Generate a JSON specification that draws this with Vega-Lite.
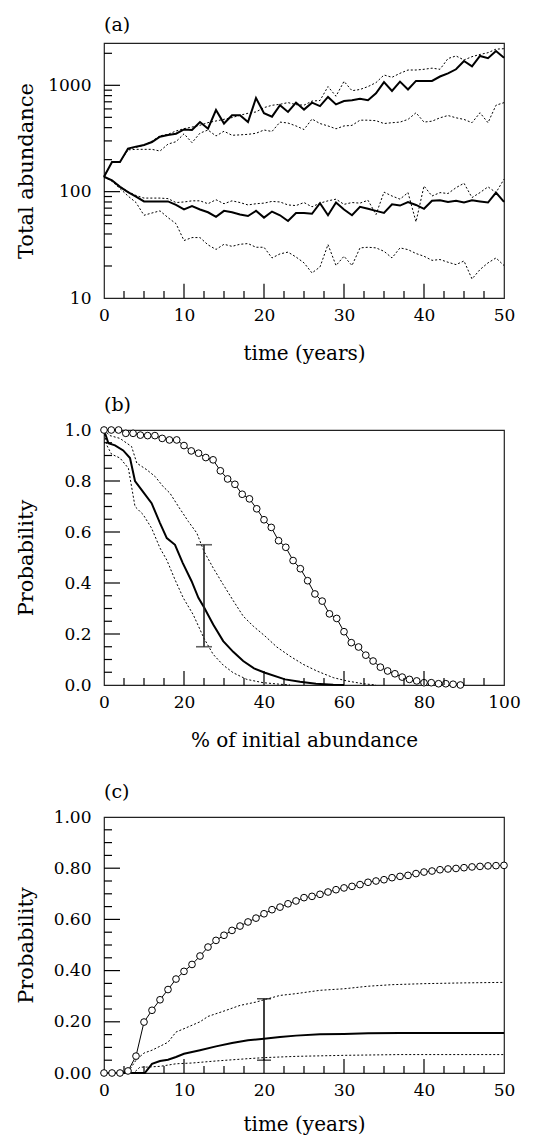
{
"$schema": "https://vega.github.io/schema/vega-lite/v6.json",
"background": "white",
"padding": {"left": 14, "top": 15, "right": 5, "bottom": 5},
"bounds": "flush",
"spacing": 132,
"config": {
 "view": {"stroke": "#222", "strokeWidth": 1.2, "fill": null},
 "axis": {"labelFont": "DejaVu Serif", "labelFontSize": 17, "labelColor": "black", "titleFont": "DejaVu Serif", "titleFontSize": 20, "titleFontWeight": "normal", "titleColor": "black", "ticks": false, "grid": false, "domain": false, "labelFlush": false, "labelOverlap": false},
 "title": {"font": "DejaVu Serif", "fontSize": 19, "fontWeight": "normal", "anchor": "start", "frame": "group", "color": "black"}
},
"datasets": {
 "tyLog": [{"v":100,"major":true},{"v":1000,"major":true},{"v":20,"major":false},{"v":30,"major":false},{"v":40,"major":false},{"v":50,"major":false},{"v":60,"major":false},{"v":70,"major":false},{"v":80,"major":false},{"v":90,"major":false},{"v":200,"major":false},{"v":300,"major":false},{"v":400,"major":false},{"v":500,"major":false},{"v":600,"major":false},{"v":700,"major":false},{"v":800,"major":false},{"v":900,"major":false},{"v":2000,"major":false}],
 "tx50": [{"v":10,"major":true},{"v":20,"major":true},{"v":30,"major":true},{"v":40,"major":true},{"v":2.5,"major":false},{"v":5,"major":false},{"v":7.5,"major":false},{"v":12.5,"major":false},{"v":15,"major":false},{"v":17.5,"major":false},{"v":22.5,"major":false},{"v":25,"major":false},{"v":27.5,"major":false},{"v":32.5,"major":false},{"v":35,"major":false},{"v":37.5,"major":false},{"v":42.5,"major":false},{"v":45,"major":false},{"v":47.5,"major":false}],
 "tx100": [{"v":20,"major":true},{"v":40,"major":true},{"v":60,"major":true},{"v":80,"major":true},{"v":5,"major":false},{"v":10,"major":false},{"v":15,"major":false},{"v":25,"major":false},{"v":30,"major":false},{"v":35,"major":false},{"v":45,"major":false},{"v":50,"major":false},{"v":55,"major":false},{"v":65,"major":false},{"v":70,"major":false},{"v":75,"major":false},{"v":85,"major":false},{"v":90,"major":false},{"v":95,"major":false}],
 "ty1": [{"v":0.2,"major":true},{"v":0.4,"major":true},{"v":0.6,"major":true},{"v":0.8,"major":true},{"v":0.05,"major":false},{"v":0.1,"major":false},{"v":0.15,"major":false},{"v":0.25,"major":false},{"v":0.3,"major":false},{"v":0.35,"major":false},{"v":0.45,"major":false},{"v":0.5,"major":false},{"v":0.55,"major":false},{"v":0.65,"major":false},{"v":0.7,"major":false},{"v":0.75,"major":false},{"v":0.85,"major":false},{"v":0.9,"major":false},{"v":0.95,"major":false}],
 "a": [
{"t":0,"N":138,"s":"U"},{"t":1,"N":190,"s":"U"},{"t":2,"N":190,"s":"U"},{"t":3,"N":254,"s":"U"},{"t":4,"N":265,"s":"U"},{"t":5,"N":275,"s":"U"},{"t":6,"N":293,"s":"U"},{"t":7,"N":329,"s":"U"},{"t":8,"N":341,"s":"U"},{"t":9,"N":351,"s":"U"},{"t":10,"N":385,"s":"U"},{"t":11,"N":380,"s":"U"},{"t":12,"N":452,"s":"U"},{"t":13,"N":391,"s":"U"},{"t":14,"N":586,"s":"U"},{"t":15,"N":437,"s":"U"},{"t":16,"N":523,"s":"U"},{"t":17,"N":523,"s":"U"},{"t":18,"N":452,"s":"U"},{"t":19,"N":760,"s":"U"},{"t":20,"N":546,"s":"U"},{"t":21,"N":507,"s":"U"},{"t":22,"N":649,"s":"U"},{"t":23,"N":562,"s":"U"},{"t":24,"N":688,"s":"U"},{"t":25,"N":591,"s":"U"},{"t":26,"N":687,"s":"U"},{"t":27,"N":638,"s":"U"},{"t":28,"N":778,"s":"U"},{"t":29,"N":662,"s":"U"},{"t":30,"N":711,"s":"U"},{"t":31,"N":725,"s":"U"},{"t":32,"N":748,"s":"U"},{"t":33,"N":725,"s":"U"},{"t":34,"N":841,"s":"U"},{"t":35,"N":1073,"s":"U"},{"t":36,"N":884,"s":"U"},{"t":37,"N":1083,"s":"U"},{"t":38,"N":914,"s":"U"},{"t":39,"N":1100,"s":"U"},{"t":40,"N":1100,"s":"U"},{"t":41,"N":1100,"s":"U"},{"t":42,"N":1210,"s":"U"},{"t":43,"N":1297,"s":"U"},{"t":44,"N":1415,"s":"U"},{"t":45,"N":1693,"s":"U"},{"t":46,"N":1510,"s":"U"},{"t":47,"N":1889,"s":"U"},{"t":48,"N":1797,"s":"U"},{"t":49,"N":2100,"s":"U"},{"t":50,"N":1820,"s":"U"},
{"t":0,"N":138,"s":"Uh"},{"t":1,"N":190,"s":"Uh"},{"t":2,"N":190,"s":"Uh"},{"t":3,"N":250,"s":"Uh"},{"t":4,"N":262,"s":"Uh"},{"t":5,"N":273,"s":"Uh"},{"t":6,"N":299,"s":"Uh"},{"t":7,"N":335,"s":"Uh"},{"t":8,"N":346,"s":"Uh"},{"t":9,"N":372,"s":"Uh"},{"t":10,"N":391,"s":"Uh"},{"t":11,"N":405,"s":"Uh"},{"t":12,"N":421,"s":"Uh"},{"t":13,"N":446,"s":"Uh"},{"t":14,"N":462,"s":"Uh"},{"t":15,"N":479,"s":"Uh"},{"t":16,"N":497,"s":"Uh"},{"t":17,"N":523,"s":"Uh"},{"t":18,"N":546,"s":"Uh"},{"t":19,"N":562,"s":"Uh"},{"t":20,"N":617,"s":"Uh"},{"t":21,"N":649,"s":"Uh"},{"t":22,"N":663,"s":"Uh"},{"t":23,"N":688,"s":"Uh"},{"t":24,"N":658,"s":"Uh"},{"t":25,"N":650,"s":"Uh"},{"t":26,"N":711,"s":"Uh"},{"t":27,"N":720,"s":"Uh"},{"t":28,"N":973,"s":"Uh"},{"t":29,"N":790,"s":"Uh"},{"t":30,"N":1090,"s":"Uh"},{"t":31,"N":890,"s":"Uh"},{"t":32,"N":914,"s":"Uh"},{"t":33,"N":973,"s":"Uh"},{"t":34,"N":1060,"s":"Uh"},{"t":35,"N":1250,"s":"Uh"},{"t":36,"N":1190,"s":"Uh"},{"t":37,"N":1297,"s":"Uh"},{"t":38,"N":1393,"s":"Uh"},{"t":39,"N":1393,"s":"Uh"},{"t":40,"N":1415,"s":"Uh"},{"t":41,"N":1450,"s":"Uh"},{"t":42,"N":1415,"s":"Uh"},{"t":43,"N":1786,"s":"Uh"},{"t":44,"N":1889,"s":"Uh"},{"t":45,"N":1730,"s":"Uh"},{"t":46,"N":1860,"s":"Uh"},{"t":47,"N":1950,"s":"Uh"},{"t":48,"N":2027,"s":"Uh"},{"t":49,"N":2188,"s":"Uh"},{"t":50,"N":2210,"s":"Uh"},
{"t":0,"N":138,"s":"Ul"},{"t":1,"N":190,"s":"Ul"},{"t":2,"N":190,"s":"Ul"},{"t":3,"N":247,"s":"Ul"},{"t":4,"N":250,"s":"Ul"},{"t":5,"N":250,"s":"Ul"},{"t":6,"N":250,"s":"Ul"},{"t":7,"N":241,"s":"Ul"},{"t":8,"N":280,"s":"Ul"},{"t":9,"N":295,"s":"Ul"},{"t":10,"N":350,"s":"Ul"},{"t":11,"N":289,"s":"Ul"},{"t":12,"N":355,"s":"Ul"},{"t":13,"N":380,"s":"Ul"},{"t":14,"N":334,"s":"Ul"},{"t":15,"N":370,"s":"Ul"},{"t":16,"N":339,"s":"Ul"},{"t":17,"N":342,"s":"Ul"},{"t":18,"N":346,"s":"Ul"},{"t":19,"N":354,"s":"Ul"},{"t":20,"N":380,"s":"Ul"},{"t":21,"N":368,"s":"Ul"},{"t":22,"N":451,"s":"Ul"},{"t":23,"N":442,"s":"Ul"},{"t":24,"N":415,"s":"Ul"},{"t":25,"N":384,"s":"Ul"},{"t":26,"N":482,"s":"Ul"},{"t":27,"N":437,"s":"Ul"},{"t":28,"N":415,"s":"Ul"},{"t":29,"N":390,"s":"Ul"},{"t":30,"N":415,"s":"Ul"},{"t":31,"N":420,"s":"Ul"},{"t":32,"N":470,"s":"Ul"},{"t":33,"N":470,"s":"Ul"},{"t":34,"N":465,"s":"Ul"},{"t":35,"N":437,"s":"Ul"},{"t":36,"N":445,"s":"Ul"},{"t":37,"N":451,"s":"Ul"},{"t":38,"N":478,"s":"Ul"},{"t":39,"N":552,"s":"Ul"},{"t":40,"N":451,"s":"Ul"},{"t":41,"N":460,"s":"Ul"},{"t":42,"N":495,"s":"Ul"},{"t":43,"N":520,"s":"Ul"},{"t":44,"N":495,"s":"Ul"},{"t":45,"N":478,"s":"Ul"},{"t":46,"N":445,"s":"Ul"},{"t":47,"N":552,"s":"Ul"},{"t":48,"N":445,"s":"Ul"},{"t":49,"N":650,"s":"Ul"},{"t":50,"N":687,"s":"Ul"},
{"t":0,"N":138,"s":"L"},{"t":1,"N":128,"s":"L"},{"t":2,"N":111,"s":"L"},{"t":3,"N":99,"s":"L"},{"t":4,"N":90,"s":"L"},{"t":5,"N":81,"s":"L"},{"t":6,"N":81,"s":"L"},{"t":7,"N":81,"s":"L"},{"t":8,"N":81,"s":"L"},{"t":9,"N":75,"s":"L"},{"t":10,"N":68,"s":"L"},{"t":11,"N":73,"s":"L"},{"t":12,"N":68,"s":"L"},{"t":13,"N":64,"s":"L"},{"t":14,"N":58,"s":"L"},{"t":15,"N":66,"s":"L"},{"t":16,"N":64,"s":"L"},{"t":17,"N":61,"s":"L"},{"t":18,"N":59,"s":"L"},{"t":19,"N":66,"s":"L"},{"t":20,"N":57,"s":"L"},{"t":21,"N":65,"s":"L"},{"t":22,"N":60,"s":"L"},{"t":23,"N":53,"s":"L"},{"t":24,"N":63,"s":"L"},{"t":25,"N":63,"s":"L"},{"t":26,"N":62,"s":"L"},{"t":27,"N":78,"s":"L"},{"t":28,"N":60,"s":"L"},{"t":29,"N":79,"s":"L"},{"t":30,"N":68,"s":"L"},{"t":31,"N":60,"s":"L"},{"t":32,"N":72,"s":"L"},{"t":33,"N":69,"s":"L"},{"t":34,"N":66,"s":"L"},{"t":35,"N":63,"s":"L"},{"t":36,"N":76,"s":"L"},{"t":37,"N":74,"s":"L"},{"t":38,"N":80,"s":"L"},{"t":39,"N":75,"s":"L"},{"t":40,"N":69,"s":"L"},{"t":41,"N":82,"s":"L"},{"t":42,"N":83,"s":"L"},{"t":43,"N":80,"s":"L"},{"t":44,"N":82,"s":"L"},{"t":45,"N":79,"s":"L"},{"t":46,"N":83,"s":"L"},{"t":47,"N":81,"s":"L"},{"t":48,"N":79,"s":"L"},{"t":49,"N":98,"s":"L"},{"t":50,"N":80,"s":"L"},
{"t":0,"N":138,"s":"Lh"},{"t":1,"N":128,"s":"Lh"},{"t":2,"N":112,"s":"Lh"},{"t":3,"N":100,"s":"Lh"},{"t":4,"N":92,"s":"Lh"},{"t":5,"N":87,"s":"Lh"},{"t":6,"N":87,"s":"Lh"},{"t":7,"N":87,"s":"Lh"},{"t":8,"N":86,"s":"Lh"},{"t":9,"N":79,"s":"Lh"},{"t":10,"N":80,"s":"Lh"},{"t":11,"N":82,"s":"Lh"},{"t":12,"N":82,"s":"Lh"},{"t":13,"N":77,"s":"Lh"},{"t":14,"N":84,"s":"Lh"},{"t":15,"N":77,"s":"Lh"},{"t":16,"N":82,"s":"Lh"},{"t":17,"N":79,"s":"Lh"},{"t":18,"N":75,"s":"Lh"},{"t":19,"N":77,"s":"Lh"},{"t":20,"N":78,"s":"Lh"},{"t":21,"N":81,"s":"Lh"},{"t":22,"N":80,"s":"Lh"},{"t":23,"N":75,"s":"Lh"},{"t":24,"N":74,"s":"Lh"},{"t":25,"N":79,"s":"Lh"},{"t":26,"N":72,"s":"Lh"},{"t":27,"N":78,"s":"Lh"},{"t":28,"N":82,"s":"Lh"},{"t":29,"N":85,"s":"Lh"},{"t":30,"N":76,"s":"Lh"},{"t":31,"N":79,"s":"Lh"},{"t":32,"N":78,"s":"Lh"},{"t":33,"N":83,"s":"Lh"},{"t":34,"N":61,"s":"Lh"},{"t":35,"N":99,"s":"Lh"},{"t":36,"N":91,"s":"Lh"},{"t":37,"N":85,"s":"Lh"},{"t":38,"N":98,"s":"Lh"},{"t":39,"N":52,"s":"Lh"},{"t":40,"N":113,"s":"Lh"},{"t":41,"N":91,"s":"Lh"},{"t":42,"N":98,"s":"Lh"},{"t":43,"N":96,"s":"Lh"},{"t":44,"N":109,"s":"Lh"},{"t":45,"N":120,"s":"Lh"},{"t":46,"N":88,"s":"Lh"},{"t":47,"N":98,"s":"Lh"},{"t":48,"N":111,"s":"Lh"},{"t":49,"N":98,"s":"Lh"},{"t":50,"N":131,"s":"Lh"},
{"t":0,"N":138,"s":"Ll"},{"t":1,"N":125,"s":"Ll"},{"t":2,"N":107,"s":"Ll"},{"t":3,"N":91,"s":"Ll"},{"t":4,"N":79,"s":"Ll"},{"t":5,"N":60,"s":"Ll"},{"t":6,"N":63,"s":"Ll"},{"t":7,"N":66,"s":"Ll"},{"t":8,"N":57,"s":"Ll"},{"t":9,"N":50,"s":"Ll"},{"t":10,"N":34.7,"s":"Ll"},{"t":11,"N":37,"s":"Ll"},{"t":12,"N":37,"s":"Ll"},{"t":13,"N":31.6,"s":"Ll"},{"t":14,"N":28.6,"s":"Ll"},{"t":15,"N":32,"s":"Ll"},{"t":16,"N":30.6,"s":"Ll"},{"t":17,"N":32,"s":"Ll"},{"t":18,"N":32.5,"s":"Ll"},{"t":19,"N":30,"s":"Ll"},{"t":20,"N":30,"s":"Ll"},{"t":21,"N":23.8,"s":"Ll"},{"t":22,"N":26,"s":"Ll"},{"t":23,"N":27,"s":"Ll"},{"t":24,"N":24.3,"s":"Ll"},{"t":25,"N":21.4,"s":"Ll"},{"t":26,"N":17.2,"s":"Ll"},{"t":27,"N":19.6,"s":"Ll"},{"t":28,"N":31.8,"s":"Ll"},{"t":29,"N":20.2,"s":"Ll"},{"t":30,"N":24.7,"s":"Ll"},{"t":31,"N":20.2,"s":"Ll"},{"t":32,"N":29.6,"s":"Ll"},{"t":33,"N":30,"s":"Ll"},{"t":34,"N":29.6,"s":"Ll"},{"t":35,"N":27.5,"s":"Ll"},{"t":36,"N":23.8,"s":"Ll"},{"t":37,"N":29.6,"s":"Ll"},{"t":38,"N":28.5,"s":"Ll"},{"t":39,"N":26.2,"s":"Ll"},{"t":40,"N":24.7,"s":"Ll"},{"t":41,"N":22.6,"s":"Ll"},{"t":42,"N":23,"s":"Ll"},{"t":43,"N":21.7,"s":"Ll"},{"t":44,"N":20.6,"s":"Ll"},{"t":45,"N":22.3,"s":"Ll"},{"t":46,"N":15.1,"s":"Ll"},{"t":47,"N":18.5,"s":"Ll"},{"t":48,"N":21.4,"s":"Ll"},{"t":49,"N":23.8,"s":"Ll"},{"t":50,"N":20.2,"s":"Ll"}
 ],
 "b": [
{"p":0,"P":1.0,"s":"mean"},{"p":1.1,"P":0.948,"s":"mean"},{"p":2.75,"P":0.94,"s":"mean"},{"p":4.8,"P":0.92,"s":"mean"},{"p":6.5,"P":0.89,"s":"mean"},{"p":7.75,"P":0.8,"s":"mean"},{"p":9.4,"P":0.765,"s":"mean"},{"p":11.9,"P":0.713,"s":"mean"},{"p":14,"P":0.635,"s":"mean"},{"p":15.7,"P":0.576,"s":"mean"},{"p":17.75,"P":0.55,"s":"mean"},{"p":19.7,"P":0.478,"s":"mean"},{"p":21.9,"P":0.407,"s":"mean"},{"p":23.6,"P":0.342,"s":"mean"},{"p":25,"P":0.305,"s":"mean"},{"p":27.3,"P":0.237,"s":"mean"},{"p":29.8,"P":0.172,"s":"mean"},{"p":32.3,"P":0.13,"s":"mean"},{"p":34.8,"P":0.094,"s":"mean"},{"p":37.5,"P":0.065,"s":"mean"},{"p":40.25,"P":0.048,"s":"mean"},{"p":45.25,"P":0.022,"s":"mean"},{"p":49,"P":0.013,"s":"mean"},{"p":53,"P":0.005,"s":"mean"},{"p":57.3,"P":0.001,"s":"mean"},{"p":60,"P":0,"s":"mean"},
{"p":0,"P":1.0,"s":"hi"},{"p":1.5,"P":0.978,"s":"hi"},{"p":4,"P":0.967,"s":"hi"},{"p":6.9,"P":0.935,"s":"hi"},{"p":8.2,"P":0.87,"s":"hi"},{"p":10.7,"P":0.844,"s":"hi"},{"p":12.75,"P":0.818,"s":"hi"},{"p":14.8,"P":0.778,"s":"hi"},{"p":16.5,"P":0.752,"s":"hi"},{"p":18.6,"P":0.7,"s":"hi"},{"p":21.1,"P":0.641,"s":"hi"},{"p":23.2,"P":0.596,"s":"hi"},{"p":25,"P":0.524,"s":"hi"},{"p":27.3,"P":0.459,"s":"hi"},{"p":29.8,"P":0.394,"s":"hi"},{"p":32.3,"P":0.331,"s":"hi"},{"p":34.8,"P":0.27,"s":"hi"},{"p":37.3,"P":0.231,"s":"hi"},{"p":40.25,"P":0.192,"s":"hi"},{"p":43.2,"P":0.149,"s":"hi"},{"p":46.5,"P":0.113,"s":"hi"},{"p":49.8,"P":0.081,"s":"hi"},{"p":53.2,"P":0.055,"s":"hi"},{"p":57.3,"P":0.029,"s":"hi"},{"p":60.7,"P":0.016,"s":"hi"},{"p":64.8,"P":0.005,"s":"hi"},{"p":68,"P":0,"s":"hi"},
{"p":0,"P":1.0,"s":"lo"},{"p":0.7,"P":0.94,"s":"lo"},{"p":1.9,"P":0.905,"s":"lo"},{"p":4,"P":0.89,"s":"lo"},{"p":6.1,"P":0.85,"s":"lo"},{"p":7.75,"P":0.7,"s":"lo"},{"p":9.8,"P":0.668,"s":"lo"},{"p":11.9,"P":0.615,"s":"lo"},{"p":14,"P":0.537,"s":"lo"},{"p":15.7,"P":0.49,"s":"lo"},{"p":17.75,"P":0.413,"s":"lo"},{"p":19.8,"P":0.342,"s":"lo"},{"p":22.3,"P":0.276,"s":"lo"},{"p":25,"P":0.183,"s":"lo"},{"p":27.3,"P":0.12,"s":"lo"},{"p":29.8,"P":0.078,"s":"lo"},{"p":32.3,"P":0.048,"s":"lo"},{"p":35.7,"P":0.022,"s":"lo"},{"p":39.8,"P":0.009,"s":"lo"},{"p":44,"P":0.003,"s":"lo"},{"p":46.5,"P":0,"s":"lo"}
 ],
 "bc": [
{"p":0,"P":1.0},{"p":1.82,"P":1.0},{"p":3.64,"P":1.0},{"p":5.45,"P":0.987},{"p":7.27,"P":0.987},{"p":9.09,"P":0.98},{"p":10.91,"P":0.978},{"p":12.73,"P":0.978},{"p":14.55,"P":0.967},{"p":16.36,"P":0.961},{"p":18.18,"P":0.961},{"p":20,"P":0.939},{"p":21.82,"P":0.918},{"p":23.64,"P":0.909},{"p":25.45,"P":0.892},{"p":27.27,"P":0.883},{"p":29.09,"P":0.84},{"p":30.91,"P":0.808},{"p":32.73,"P":0.787},{"p":34.55,"P":0.748},{"p":36.36,"P":0.73},{"p":38.18,"P":0.691},{"p":40,"P":0.648},{"p":41.82,"P":0.618},{"p":43.64,"P":0.566},{"p":45.45,"P":0.54},{"p":47.27,"P":0.488},{"p":49.09,"P":0.456},{"p":50.91,"P":0.409},{"p":52.73,"P":0.357},{"p":54.55,"P":0.329},{"p":56.36,"P":0.279},{"p":58.18,"P":0.261},{"p":60,"P":0.209},{"p":61.82,"P":0.166},{"p":63.64,"P":0.149},{"p":65.45,"P":0.117},{"p":67.27,"P":0.094},{"p":69.09,"P":0.07},{"p":70.91,"P":0.055},{"p":72.73,"P":0.044},{"p":74.55,"P":0.031},{"p":76.36,"P":0.022},{"p":78.18,"P":0.016},{"p":80,"P":0.009},{"p":81.82,"P":0.009},{"p":83.64,"P":0.005},{"p":85.45,"P":0.005},{"p":87.27,"P":0.003},{"p":89.09,"P":0}
 ],
 "berr": [{"p":25,"lo":0.15,"hi":0.55}],
 "c": [
{"t":0,"P":0,"s":"mean"},{"t":5.1,"P":0,"s":"mean"},{"t":6,"P":0.036,"s":"mean"},{"t":7,"P":0.047,"s":"mean"},{"t":8,"P":0.052,"s":"mean"},{"t":9,"P":0.0625,"s":"mean"},{"t":10,"P":0.075,"s":"mean"},{"t":11,"P":0.082,"s":"mean"},{"t":12,"P":0.089,"s":"mean"},{"t":14,"P":0.104,"s":"mean"},{"t":16,"P":0.117,"s":"mean"},{"t":18,"P":0.128,"s":"mean"},{"t":20,"P":0.134,"s":"mean"},{"t":22,"P":0.141,"s":"mean"},{"t":24,"P":0.146,"s":"mean"},{"t":27,"P":0.151,"s":"mean"},{"t":30,"P":0.152,"s":"mean"},{"t":33,"P":0.155,"s":"mean"},{"t":37,"P":0.156,"s":"mean"},{"t":50,"P":0.156,"s":"mean"},
{"t":0,"P":0,"s":"hi"},{"t":3,"P":0.004,"s":"hi"},{"t":4,"P":0.05,"s":"hi"},{"t":5,"P":0.078,"s":"hi"},{"t":6,"P":0.089,"s":"hi"},{"t":8,"P":0.12,"s":"hi"},{"t":9,"P":0.16,"s":"hi"},{"t":10,"P":0.173,"s":"hi"},{"t":12,"P":0.2,"s":"hi"},{"t":13,"P":0.221,"s":"hi"},{"t":15,"P":0.242,"s":"hi"},{"t":17,"P":0.264,"s":"hi"},{"t":19,"P":0.277,"s":"hi"},{"t":20,"P":0.286,"s":"hi"},{"t":22,"P":0.303,"s":"hi"},{"t":24,"P":0.31,"s":"hi"},{"t":27,"P":0.323,"s":"hi"},{"t":30,"P":0.329,"s":"hi"},{"t":33,"P":0.339,"s":"hi"},{"t":36,"P":0.345,"s":"hi"},{"t":40,"P":0.349,"s":"hi"},{"t":45,"P":0.352,"s":"hi"},{"t":50,"P":0.354,"s":"hi"},
{"t":0,"P":0,"s":"lo"},{"t":3.7,"P":0,"s":"lo"},{"t":4.5,"P":0.023,"s":"lo"},{"t":5.3,"P":0.023,"s":"lo"},{"t":7,"P":0.026,"s":"lo"},{"t":9,"P":0.036,"s":"lo"},{"t":11,"P":0.039,"s":"lo"},{"t":14,"P":0.047,"s":"lo"},{"t":18,"P":0.056,"s":"lo"},{"t":20,"P":0.06,"s":"lo"},{"t":24,"P":0.065,"s":"lo"},{"t":30,"P":0.069,"s":"lo"},{"t":37,"P":0.072,"s":"lo"},{"t":50,"P":0.072,"s":"lo"}
 ],
 "cc": [
{"t":0,"P":0},{"t":1,"P":0},{"t":2,"P":0},{"t":3,"P":0.008},{"t":4,"P":0.066},{"t":5,"P":0.199},{"t":6,"P":0.245},{"t":7,"P":0.286},{"t":8,"P":0.326},{"t":9,"P":0.367},{"t":10,"P":0.397},{"t":11,"P":0.424},{"t":12,"P":0.457},{"t":13,"P":0.492},{"t":14,"P":0.518},{"t":15,"P":0.538},{"t":16,"P":0.557},{"t":17,"P":0.574},{"t":18,"P":0.59},{"t":19,"P":0.605},{"t":20,"P":0.622},{"t":21,"P":0.638},{"t":22,"P":0.648},{"t":23,"P":0.661},{"t":24,"P":0.672},{"t":25,"P":0.685},{"t":26,"P":0.69},{"t":27,"P":0.698},{"t":28,"P":0.707},{"t":29,"P":0.716},{"t":30,"P":0.723},{"t":31,"P":0.729},{"t":32,"P":0.736},{"t":33,"P":0.745},{"t":34,"P":0.75},{"t":35,"P":0.755},{"t":36,"P":0.763},{"t":37,"P":0.768},{"t":38,"P":0.772},{"t":39,"P":0.779},{"t":40,"P":0.785},{"t":41,"P":0.789},{"t":42,"P":0.794},{"t":43,"P":0.797},{"t":44,"P":0.799},{"t":45,"P":0.802},{"t":46,"P":0.805},{"t":47,"P":0.807},{"t":48,"P":0.809},{"t":49,"P":0.81},{"t":50,"P":0.811}
 ],
 "cerr": [{"t":20,"lo":0.05,"hi":0.29}]
},
"vconcat": [
 {
  "title": {"text": "(a)", "offset": 8},
  "width": 400, "height": 255,
  "resolve": {"axis": {"x": "independent", "y": "independent"}},
  "layer": [
   {
    "data": {"name": "a"},
    "transform": [{"filter": "indexof(['Uh','Ul','Lh','Ll'], datum.s) >= 0"}],
    "mark": {"type": "line", "color": "black", "strokeWidth": 1, "strokeDash": [2, 2]},
    "encoding": {
     "x": {"field": "t", "type": "quantitative", "scale": {"domain": [0, 50], "nice": false}, "axis": null},
     "y": {"field": "N", "type": "quantitative", "scale": {"type": "log", "domain": [10, 2500], "nice": false}, "axis": null},
     "detail": {"field": "s"}
    }
   },
   {
    "data": {"name": "a"},
    "transform": [{"filter": "datum.s === 'U' || datum.s === 'L'"}],
    "mark": {"type": "line", "color": "black", "strokeWidth": 2},
    "encoding": {
     "x": {"field": "t", "type": "quantitative", "scale": {"domain": [0, 50], "nice": false}, "axis": {"orient": "bottom", "values": [0,10,20,30,40,50], "labelPadding": 9, "title": "time (years)", "titleY": 61, "titleBaseline": "alphabetic"}},
     "y": {"field": "N", "type": "quantitative", "scale": {"type": "log", "domain": [10, 2500], "nice": false}, "axis": {"orient": "left", "values": [10,100,1000], "format": "d", "labelPadding": 13, "title": "Total abundance", "titleFontSize": 21, "titleX": -72, "titleBaseline": "alphabetic"}},
     "detail": {"field": "s"}
    }
   },
   {
    "data": {"name": "tyLog"}, "transform": [{"filter": "datum.major"}],
    "mark": {"type": "rule", "color": "black", "strokeWidth": 1.2},
    "encoding": {"y": {"field": "v", "type": "quantitative", "axis": null}, "x": {"datum": 0, "type": "quantitative", "axis": null}, "x2": {"datum": 2}}
   },
   {
    "data": {"name": "tyLog"}, "transform": [{"filter": "!datum.major"}],
    "mark": {"type": "rule", "color": "black", "strokeWidth": 1.2},
    "encoding": {"y": {"field": "v", "type": "quantitative", "axis": null}, "x": {"datum": 0, "type": "quantitative", "axis": null}, "x2": {"datum": 1}}
   },
   {
    "data": {"name": "tx50"}, "transform": [{"filter": "datum.major"}],
    "mark": {"type": "rule", "color": "black", "strokeWidth": 1.2},
    "encoding": {"x": {"field": "v", "type": "quantitative", "axis": null}, "y": {"datum": 10, "type": "quantitative", "axis": null}, "y2": {"datum": 13.6}}
   },
   {
    "data": {"name": "tx50"}, "transform": [{"filter": "!datum.major"}],
    "mark": {"type": "rule", "color": "black", "strokeWidth": 1.2},
    "encoding": {"x": {"field": "v", "type": "quantitative", "axis": null}, "y": {"datum": 10, "type": "quantitative", "axis": null}, "y2": {"datum": 11.65}}
   }
  ]
 },
 {
  "title": {"text": "(b)", "offset": 6},
  "width": 400, "height": 255,
  "resolve": {"axis": {"x": "independent", "y": "independent"}},
  "layer": [
   {
    "data": {"name": "b"},
    "transform": [{"filter": "datum.s !== 'mean'"}],
    "mark": {"type": "line", "color": "black", "strokeWidth": 1, "strokeDash": [2, 2]},
    "encoding": {
     "x": {"field": "p", "type": "quantitative", "scale": {"domain": [0, 100], "nice": false}, "axis": null},
     "y": {"field": "P", "type": "quantitative", "scale": {"domain": [0, 1], "nice": false}, "axis": null},
     "detail": {"field": "s"}
    }
   },
   {
    "data": {"name": "b"},
    "transform": [{"filter": "datum.s === 'mean'"}],
    "mark": {"type": "line", "color": "black", "strokeWidth": 2},
    "encoding": {
     "x": {"field": "p", "type": "quantitative", "scale": {"domain": [0, 100], "nice": false}, "axis": {"orient": "bottom", "values": [0,20,40,60,80,100], "labelPadding": 9, "title": "% of initial abundance", "titleY": 61, "titleBaseline": "alphabetic"}},
     "y": {"field": "P", "type": "quantitative", "scale": {"domain": [0, 1], "nice": false}, "axis": {"orient": "left", "values": [0,0.2,0.4,0.6,0.8,1], "format": ".1f", "labelPadding": 13, "title": "Probability", "titleFontSize": 21, "titleX": -72, "titleBaseline": "alphabetic"}}
    }
   },
   {
    "data": {"name": "bc"},
    "mark": {"type": "line", "color": "black", "strokeWidth": 1, "point": {"filled": true, "fill": "white", "stroke": "black", "strokeWidth": 1, "size": 45}},
    "encoding": {
     "x": {"field": "p", "type": "quantitative", "axis": null},
     "y": {"field": "P", "type": "quantitative", "axis": null}
    }
   },
   {
    "data": {"name": "berr"},
    "mark": {"type": "errorbar", "color": "#222", "thickness": 1.6, "ticks": {"size": 16}},
    "encoding": {
     "x": {"field": "p", "type": "quantitative", "axis": null},
     "y": {"field": "lo", "type": "quantitative", "axis": null},
     "y2": {"field": "hi"}
    }
   },
   {
    "data": {"name": "ty1"}, "transform": [{"filter": "datum.major"}],
    "mark": {"type": "rule", "color": "black", "strokeWidth": 1.2},
    "encoding": {"y": {"field": "v", "type": "quantitative", "axis": null}, "x": {"datum": 0, "type": "quantitative", "axis": null}, "x2": {"datum": 4}}
   },
   {
    "data": {"name": "ty1"}, "transform": [{"filter": "!datum.major"}],
    "mark": {"type": "rule", "color": "black", "strokeWidth": 1.2},
    "encoding": {"y": {"field": "v", "type": "quantitative", "axis": null}, "x": {"datum": 0, "type": "quantitative", "axis": null}, "x2": {"datum": 2}}
   },
   {
    "data": {"name": "tx100"}, "transform": [{"filter": "datum.major"}],
    "mark": {"type": "rule", "color": "black", "strokeWidth": 1.2},
    "encoding": {"x": {"field": "v", "type": "quantitative", "axis": null}, "y": {"datum": 0, "type": "quantitative", "axis": null}, "y2": {"datum": 0.055}}
   },
   {
    "data": {"name": "tx100"}, "transform": [{"filter": "!datum.major"}],
    "mark": {"type": "rule", "color": "black", "strokeWidth": 1.2},
    "encoding": {"x": {"field": "v", "type": "quantitative", "axis": null}, "y": {"datum": 0, "type": "quantitative", "axis": null}, "y2": {"datum": 0.0275}}
   }
  ]
 },
 {
  "title": {"text": "(c)", "offset": 6},
  "width": 400, "height": 256,
  "resolve": {"axis": {"x": "independent", "y": "independent"}},
  "layer": [
   {
    "data": {"name": "c"},
    "transform": [{"filter": "datum.s !== 'mean'"}],
    "mark": {"type": "line", "color": "black", "strokeWidth": 1, "strokeDash": [2, 2]},
    "encoding": {
     "x": {"field": "t", "type": "quantitative", "scale": {"domain": [0, 50], "nice": false}, "axis": null},
     "y": {"field": "P", "type": "quantitative", "scale": {"domain": [0, 1], "nice": false}, "axis": null},
     "detail": {"field": "s"}
    }
   },
   {
    "data": {"name": "c"},
    "transform": [{"filter": "datum.s === 'mean'"}],
    "mark": {"type": "line", "color": "black", "strokeWidth": 2},
    "encoding": {
     "x": {"field": "t", "type": "quantitative", "scale": {"domain": [0, 50], "nice": false}, "axis": {"orient": "bottom", "values": [0,10,20,30,40,50], "labelPadding": 9, "title": "time (years)", "titleY": 57, "titleBaseline": "alphabetic"}},
     "y": {"field": "P", "type": "quantitative", "scale": {"domain": [0, 1], "nice": false}, "axis": {"orient": "left", "values": [0,0.2,0.4,0.6,0.8,1], "format": ".2f", "labelPadding": 13, "title": "Probability", "titleFontSize": 21, "titleX": -72, "titleBaseline": "alphabetic"}}
    }
   },
   {
    "data": {"name": "cc"},
    "mark": {"type": "line", "color": "black", "strokeWidth": 1, "point": {"filled": true, "fill": "white", "stroke": "black", "strokeWidth": 1, "size": 45}},
    "encoding": {
     "x": {"field": "t", "type": "quantitative", "axis": null},
     "y": {"field": "P", "type": "quantitative", "axis": null}
    }
   },
   {
    "data": {"name": "cerr"},
    "mark": {"type": "errorbar", "color": "black", "thickness": 1.5, "ticks": {"size": 14}},
    "encoding": {
     "x": {"field": "t", "type": "quantitative", "axis": null},
     "y": {"field": "lo", "type": "quantitative", "axis": null},
     "y2": {"field": "hi"}
    }
   },
   {
    "data": {"name": "ty1"}, "transform": [{"filter": "datum.major"}],
    "mark": {"type": "rule", "color": "black", "strokeWidth": 1.2},
    "encoding": {"y": {"field": "v", "type": "quantitative", "axis": null}, "x": {"datum": 0, "type": "quantitative", "axis": null}, "x2": {"datum": 2}}
   },
   {
    "data": {"name": "ty1"}, "transform": [{"filter": "!datum.major"}],
    "mark": {"type": "rule", "color": "black", "strokeWidth": 1.2},
    "encoding": {"y": {"field": "v", "type": "quantitative", "axis": null}, "x": {"datum": 0, "type": "quantitative", "axis": null}, "x2": {"datum": 1}}
   },
   {
    "data": {"name": "tx50"}, "transform": [{"filter": "datum.major"}],
    "mark": {"type": "rule", "color": "black", "strokeWidth": 1.2},
    "encoding": {"x": {"field": "v", "type": "quantitative", "axis": null}, "y": {"datum": 0, "type": "quantitative", "axis": null}, "y2": {"datum": 0.055}}
   },
   {
    "data": {"name": "tx50"}, "transform": [{"filter": "!datum.major"}],
    "mark": {"type": "rule", "color": "black", "strokeWidth": 1.2},
    "encoding": {"x": {"field": "v", "type": "quantitative", "axis": null}, "y": {"datum": 0, "type": "quantitative", "axis": null}, "y2": {"datum": 0.0273}}
   }
  ]
 }
]
}
